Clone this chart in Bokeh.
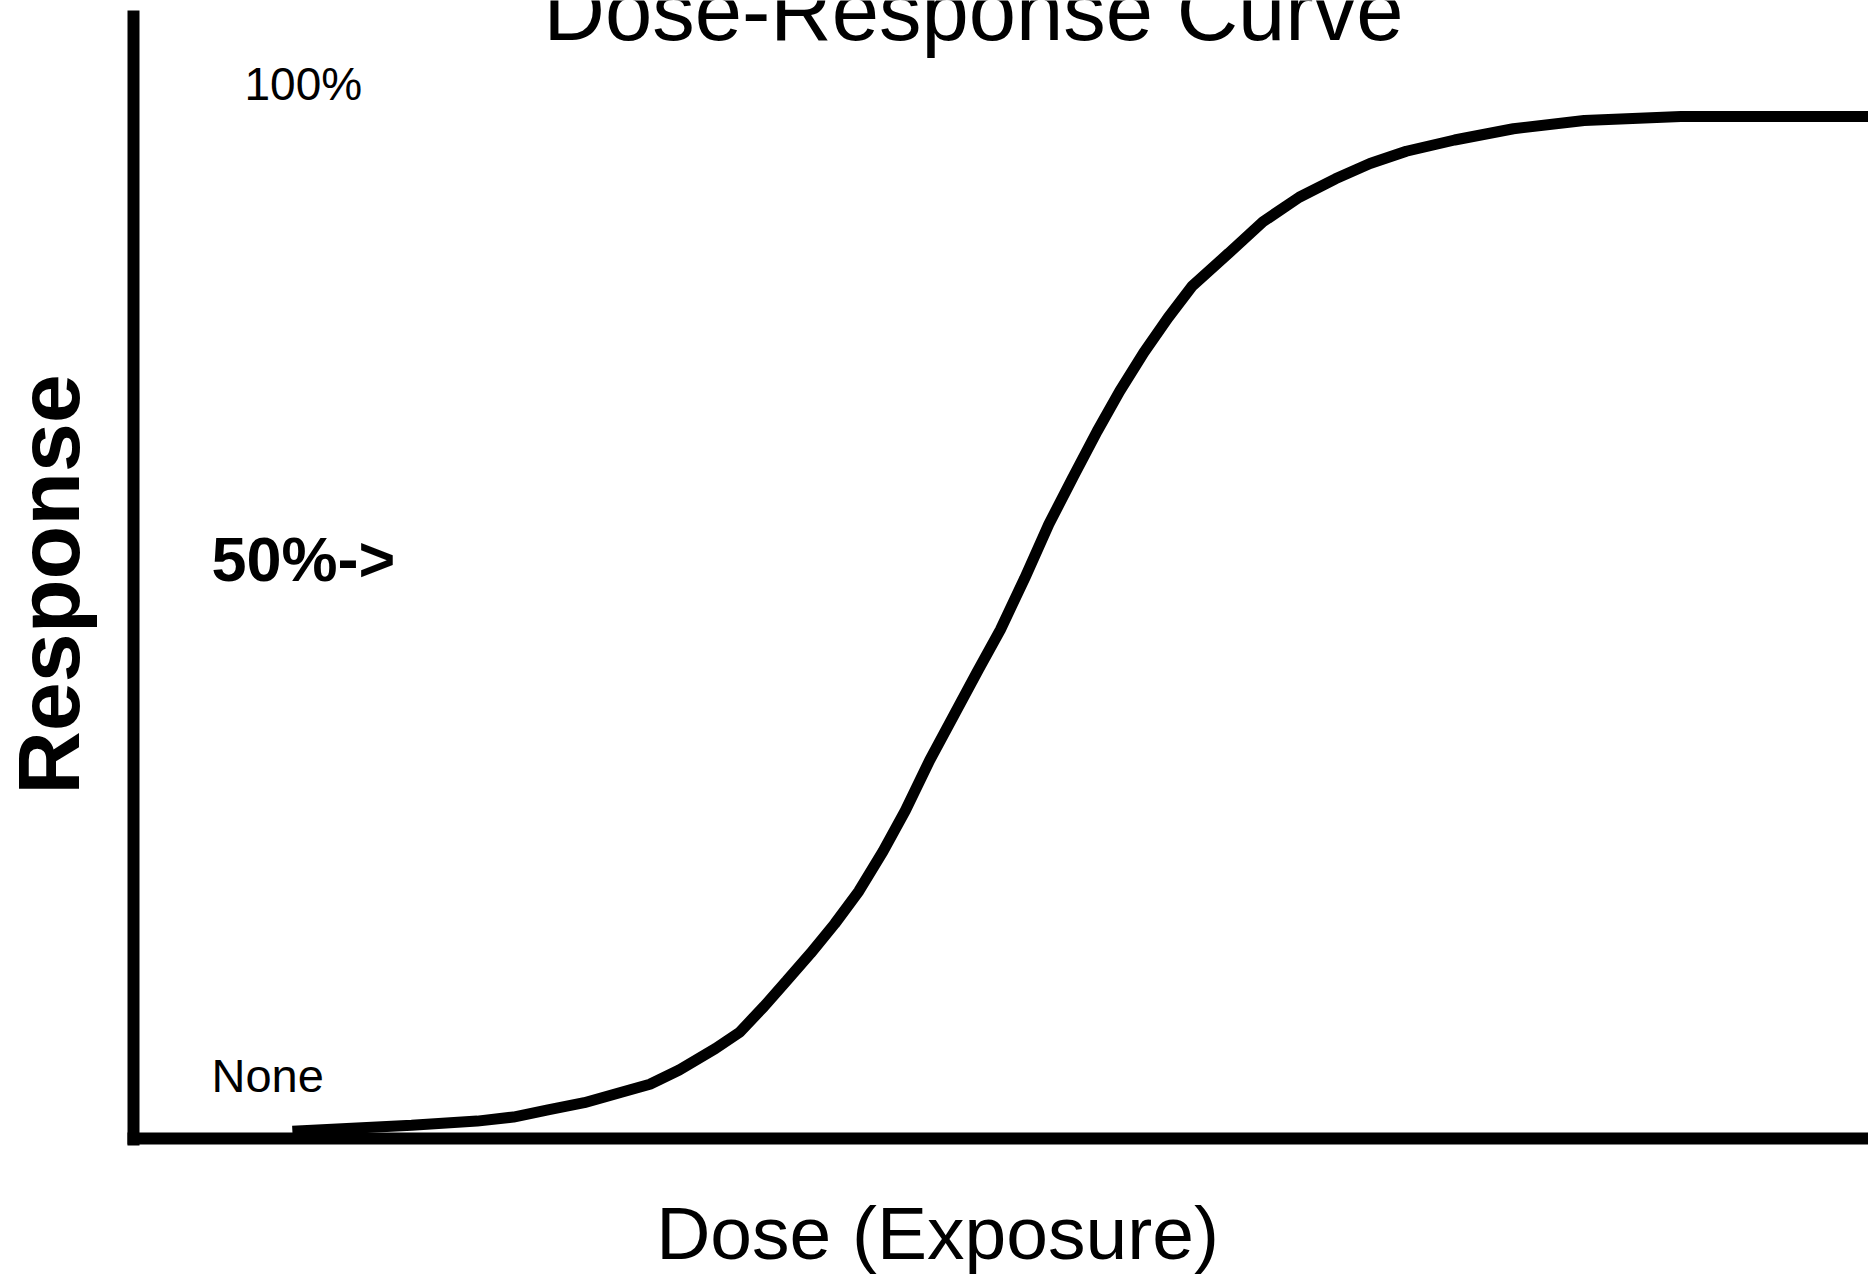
from bokeh.plotting import figure
from bokeh.models import Range1d, Label, FixedTicker, LinearAxis
from bokeh.embed import file_html
from bokeh.resources import INLINE

# Dose in % of horizontal axis span, response in % of maximum response
dose = [9.2, 16.1, 19.9, 22.0, 24.0, 26.1, 28.2, 29.9, 31.6, 33.7, 35.1, 36.5,
        37.8, 39.2, 40.6, 42.0, 43.4, 44.7, 46.1, 47.5, 48.9, 50.2, 51.6, 53.0,
        54.4, 55.8, 57.1, 58.5, 59.9, 61.3, 63.4, 65.4, 67.5, 69.6, 71.6, 73.7,
        76.5, 79.9, 84.0, 89.6, 100.5]
response = [0.7, 1.3, 1.7, 2.1, 2.8, 3.5, 4.5, 5.3, 6.7, 8.8, 10.4, 12.9,
            15.4, 18.1, 21.0, 24.2, 28.1, 32.1, 37.0, 41.4, 45.8, 49.8, 54.8, 60.1,
            64.7, 69.2, 73.1, 76.9, 80.3, 83.4, 86.6, 89.7, 92.1, 93.9, 95.4, 96.6,
            97.7, 98.8, 99.6, 100.0, 100.0]

title_text = "Dose-Response Curve"
x_label = "Dose (Exposure)"
y_label = "Response"
level_labels = ["100%", "50%->", "None"]

FONT = "Liberation Sans"

p = figure(width=1868, height=1274,
           x_range=Range1d(-7.701, 100.463), y_range=Range1d(-13.31, 111.35),
           x_axis_type=None, y_axis_type=None,
           output_backend="svg", toolbar_location=None,
           min_border_left=0, min_border_right=0,
           min_border_top=0, min_border_bottom=0)

p.background_fill_color = "white"
p.border_fill_color = "white"
p.outline_line_color = None
p.grid.visible = False

yax = LinearAxis(fixed_location=0, bounds=(-0.65, 110.4))
xax = LinearAxis(fixed_location=0, bounds=(-0.36, 100.5))
for ax in (xax, yax):
    ax.ticker = FixedTicker(ticks=[])
    ax.major_tick_line_color = None
    ax.minor_tick_line_color = None
    ax.major_label_text_font_size = "0px"
    ax.axis_line_width = 12
    ax.axis_line_color = "black"
p.add_layout(yax, "left")
p.add_layout(xax, "below")

p.line(dose, response, line_width=11, line_color="black")

# title (partially above the page, as in the original)
p.add_layout(Label(x=973, y=1264, x_units="screen", y_units="screen",
                   text=title_text, text_font=FONT, text_font_size="85px",
                   text_align="center", text_baseline="alphabetic", text_color="black"))

p.add_layout(Label(x=937, y=42, x_units="screen", y_units="screen",
                   text=x_label, text_font=FONT, text_font_size="75px",
                   text_align="center", text_baseline="alphabetic", text_color="black"))

p.add_layout(Label(x=48, y=690, x_units="screen", y_units="screen",
                   text=y_label, text_font=FONT, text_font_size="88px",
                   text_font_style="bold", angle=1.5707963,
                   text_align="center", text_baseline="alphabetic", text_color="black"))

p.add_layout(Label(x=244, y=1191, x_units="screen", y_units="screen",
                   text=level_labels[0], text_font=FONT, text_font_size="46px",
                   text_align="left", text_baseline="alphabetic", text_color="black"))

p.add_layout(Label(x=211, y=716, x_units="screen", y_units="screen",
                   text=level_labels[1], text_font=FONT, text_font_size="63px",
                   text_font_style="bold",
                   text_align="left", text_baseline="alphabetic", text_color="black"))

p.add_layout(Label(x=211, y=199, x_units="screen", y_units="screen",
                   text=level_labels[2], text_font=FONT, text_font_size="47px",
                   text_align="left", text_baseline="alphabetic", text_color="black"))

open("out.html", "w").write(file_html(p, INLINE))
